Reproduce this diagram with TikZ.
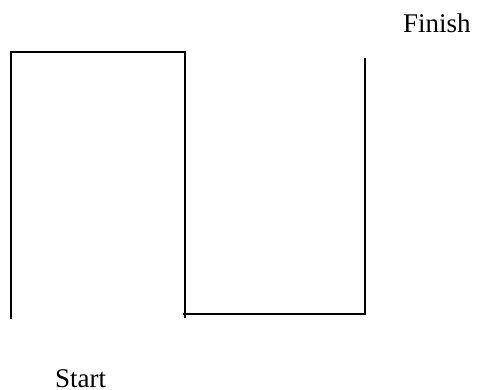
\documentclass[tikz,border=0pt]{standalone}
\usepackage{fontspec}
\setmainfont{Liberation Serif}
\begin{document}
\begin{tikzpicture}[x=1pt,y=-1pt,
  wall/.style={line width=2pt,black},
  lbl/.style={inner sep=0pt,anchor=base west,font=\fontsize{27}{30}\selectfont}]
\useasboundingbox (0,0) rectangle (478,389);
\coordinate (a) at (10.5,319);
\coordinate (b) at (10.5,52);
\coordinate (c) at (185,52);
\coordinate (d) at (185,318);
\coordinate (e) at (183,314);
\coordinate (f) at (365,314);
\coordinate (g) at (365,58);
\draw[wall] (a) -- (b) -- (c) -- (d);
\draw[wall] (e) -- (f) -- (g);
\node[lbl] (finish) at (403,32) {Finish};
\node[lbl] (start) at (55,387) {Start};
\end{tikzpicture}
\end{document}
